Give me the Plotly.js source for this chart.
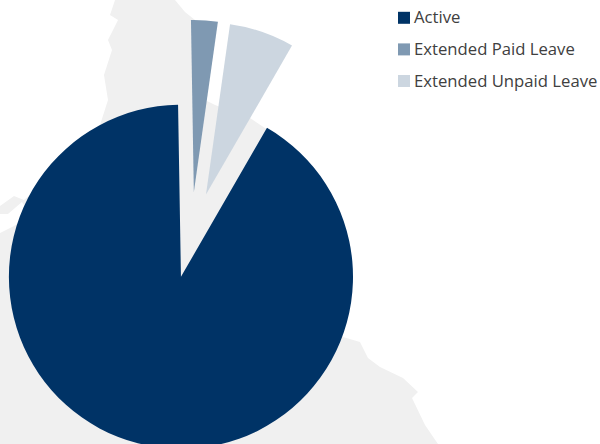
<!DOCTYPE html>
<html>
<head>
<meta charset="utf-8">
<script src="https://cdn.plot.ly/plotly-3.0.1.min.js"></script>
<style>
html,body{margin:0;padding:0;width:600px;height:444px;overflow:hidden;background:#fff}
#chart{position:absolute;left:-27px;top:0;width:627px;height:456px}
</style>
</head>
<body>
<div id="chart"></div>
<script>
const categories = ["Active", "Extended Paid Leave", "Extended Unpaid Leave"];
const values = [91.4, 2.5, 6.1];
const colors = ["#003366", "#7F99B2", "#CCD6E0"];
const pulls = [0.233, 0.267, 0.267];

// Faint background map silhouette, in page pixels
const mapOutline = [[115,0],[110,15],[118,20],[108,40],[112,50],[104,75],[108,100],[100,125],[60,170],[24,200],[14,196],[0,206],[0,214],[8,214],[22,202],[30,215],[14,226],[0,233],[0,444],[438,444],[425,425],[412,398],[418,392],[403,378],[380,367],[368,358],[360,342],[343,337],[300,200],[268,130],[250,118],[215,105],[205,100],[200,60],[195,20],[185,12],[175,0]];

const W = 627, H = 456, OFFX = 27;
const px = p => ((p[0] + OFFX) / W).toFixed(4) + ',' + (1 - p[1] / H).toFixed(4);
const mapPath = 'M' + mapOutline.map(px).join('L') + 'Z';

Plotly.newPlot('chart', [{
  type: 'pie',
  labels: categories.map(c => '<span style="font-size:16.7px">' + c + '</span>'),
  values: values,
  sort: false,
  direction: 'clockwise',
  rotation: 30,
  pull: pulls,
  textinfo: 'none',
  hoverinfo: 'skip',
  marker: {colors: colors, line: {width: 0}},
  domain: {x: [0, 436 / W], y: [0, 436 / H]}
}], {
  width: W, height: H,
  margin: {l: 0, r: 0, t: 0, b: 0, autoexpand: false},
  paper_bgcolor: '#fff',
  font: {family: '"Open Sans", sans-serif', color: '#404040'},
  showlegend: true,
  legend: {x: (384 + OFFX) / W, xanchor: 'left', y: 1 + 3 / H, yanchor: 'top',
           font: {size: 22, color: '#404040', family: '"Open Sans", sans-serif'},
           bgcolor: 'rgba(0,0,0,0)', itemclick: false, itemdoubleclick: false},
  shapes: [{type: 'path', xref: 'paper', yref: 'paper', path: mapPath, fillcolor: '#F0F0F0', line: {width: 0}, layer: 'below'}]
}, {displayModeBar: false, staticPlot: true}).then(gd => {
  // Tighten the gap between each legend swatch and its label
  gd.querySelectorAll('.legendtext').forEach(t => t.setAttribute('transform', 'translate(-10,-3)'));
});
</script>
</body>
</html>
